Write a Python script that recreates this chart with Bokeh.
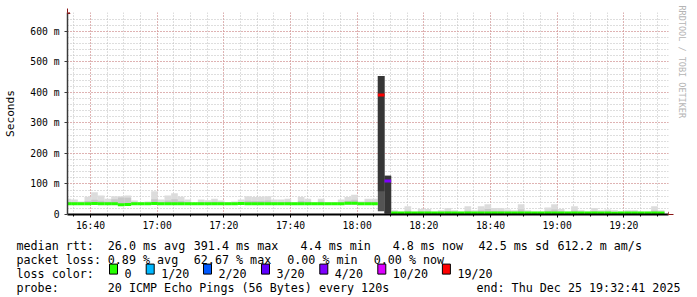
import math
import numpy as np
from bokeh.plotting import figure
from bokeh.layouts import column, row
from bokeh.models import Range1d, FixedTicker, Title, Arrow, NormalHead
from bokeh.core.properties import value
from bokeh.embed import file_html
from bokeh.resources import INLINE

# ---------------- data ----------------
# 2-minute bins, left edge in minutes after 16:00
start_min = 32.2
step_min = 2.0

median_pre_ms = [35, 35, 35, 35, 36, 35, 35, 35, 32, 33, 35, 35, 35, 36, 35, 35, 35, 35, 35, 35,
                 35, 35, 35, 35, 35, 35, 36, 35, 35, 35, 35, 35, 35, 35, 35, 35, 35, 35, 35, 35,
                 35, 35, 37, 37, 35, 35, 35]
median_spike_ms = [391.4, 110.0]
median_post_ms = [4.9, 4.8, 5.0, 4.8, 4.9, 4.9, 4.8, 4.9, 5.0, 4.9, 4.8, 5.0, 4.9, 5.0, 5.1, 4.9,
                  4.9, 4.9, 4.8, 5.0, 4.9, 4.8, 4.8, 4.9, 5.0, 4.9, 4.8, 5.0, 4.9, 4.8, 4.9, 4.9,
                  4.9, 4.4, 4.8, 4.9, 4.8, 4.8, 4.8, 4.9, 4.8]

max_pre_ms = [52, 49, 43, 58, 73, 62, 52, 60, 60, 62, 46, 40, 43, 76, 49, 62, 70, 58, 49, 38,
              49, 47, 52, 46, 40, 43, 49, 60, 57, 58, 60, 49, 49, 52, 40, 57, 52, 40, 52, 40,
              40, 49, 57, 65, 43, 52, 52]
max_spike_ms = [454, 127]
max_post_ms = [14, 9, 27, 9, 18, 18, 9, 14, 21, 14, 9, 27, 14, 27, 34, 21, 21, 16, 14, 34,
               14, 9, 9, 23, 34, 18, 9, 27, 14, 9, 21, 14, 16, 14, 9, 14, 14, 9, 9, 27, 14]

core_pre_ms = [42, 40, 38, 44, 48, 45, 42, 50, 56, 55, 39, 38, 38, 50, 40, 46, 50, 44, 40, 37,
               40, 39, 42, 40, 38, 38, 40, 45, 44, 44, 46, 40, 40, 42, 38, 44, 42, 38, 42, 38,
               38, 40, 45, 48, 39, 42, 42]
core_spike_ms = [454, 127]
core_post_ms = [8, 7, 12, 7, 10, 10, 7, 8, 11, 8, 7, 12, 8, 14, 18, 12, 12, 10, 8, 16,
                8, 7, 7, 12, 16, 10, 7, 13, 8, 7, 11, 8, 10, 8, 7, 8, 8, 7, 7, 13, 8]

min_pre_ms = [32, 32, 32, 32, 33, 32, 32, 32, 30, 30, 32, 32, 32, 33, 32, 32, 32, 32, 32, 32,
              32, 32, 32, 32, 32, 32, 33, 32, 32, 32, 32, 32, 32, 32, 32, 32, 32, 32, 32, 32,
              32, 32, 33, 33, 32, 32, 32]
min_spike_ms = [11, 3]
core_floor_spike_ms = [76, 3]
min_post_ms = [4.5, 4.5, 4.6, 4.5, 4.5, 4.5, 4.5, 4.5, 4.6, 4.5, 4.5, 4.6, 4.5, 4.6, 4.7, 4.5,
               4.5, 4.5, 4.5, 4.6, 4.5, 4.5, 4.5, 4.5, 4.6, 4.5, 4.5, 4.6, 4.5, 4.5, 4.5, 4.5,
               4.5, 4.3, 4.5, 4.5, 4.5, 4.5, 4.5, 4.5, 4.5]

loss_pre = [0, 0, 0, 0, 0, 0, 0, 0, 0, 0, 0, 0, 0, 0, 0, 0, 0, 0, 0, 0,
            0, 0, 0, 0, 0, 0, 0, 0, 0, 0, 0, 0, 0, 0, 0, 0, 0, 0, 0, 0,
            0, 0, 0, 0, 0, 0, 0]
loss_spike = [12.53, 3.48]   # pings lost out of 20
loss_post = [0, 0, 0, 0, 0, 0, 0, 0, 0, 0, 0, 0, 0, 0, 0, 0, 0, 0, 0, 0,
             0, 0, 0, 0, 0, 0, 0, 0, 0, 0, 0, 0, 0, 0, 0, 0, 0, 0, 0, 0, 0]

x_tick_pos = [40, 60, 80, 100, 120, 140, 160, 180, 200]
x_tick_labels = ["16:40", "17:00", "17:20", "17:40", "18:00", "18:20", "18:40", "19:00", "19:20"]
y_tick_pos = [0, 0.1, 0.2, 0.3, 0.4, 0.5, 0.6]
y_tick_labels = ["0", "100 m", "200 m", "300 m", "400 m", "500 m", "600 m"]

loss_thresholds = [0, 1, 2, 3, 4, 10, 19]
loss_colors = ["#26ff00", "#00b8ff", "#0059ff", "#5e00ff", "#7e00ff", "#dd00ff", "#ff0000"]
loss_labels = ["0", "1/20", "2/20", "3/20", "4/20", "10/20", "19/20"]

legend_row1 = ["median rtt:", "26.0 ms avg", "391.4 ms max", "4.4 ms min", "4.8 ms now",
               "42.5 ms sd", "612.2 m am/s"]
legend_row2 = ["packet loss:", "0.89 % avg", "62.67 % max", "0.00 % min", "0.00 % now"]
legend_row4 = ["probe:", "20 ICMP Echo Pings (56 Bytes) every 120s"]
end_text = "end: Thu Dec 25 19:32:41 2025"
watermark = "RRDTOOL / TOBI OETIKER"

# ---------------- assemble ----------------
med = np.array(median_pre_ms + median_spike_ms + median_post_ms) / 1000.0
hi = np.array(max_pre_ms + max_spike_ms + max_post_ms) / 1000.0
core = np.array(core_pre_ms + core_spike_ms + core_post_ms) / 1000.0
lo = np.array(min_pre_ms + min_spike_ms + min_post_ms) / 1000.0
core_lo = np.array(min_pre_ms + core_floor_spike_ms + min_post_ms) / 1000.0
loss = np.array(loss_pre + loss_spike + loss_post)
n = len(med)
left = start_min + step_min * np.arange(n)
right = left + step_min


def loss_color(l):
    for t, c in zip(loss_thresholds, loss_colors):
        if l <= t:
            return c
    return loss_colors[-1]


med_col = [loss_color(l) for l in loss]
outer_col = ["#dcdcdc" if l == 0 else "#545454" for l in loss]
inner_col = ["#c8c8c8" if l == 0 else "#363636" for l in loss]

FONT = "DejaVu Sans Mono"
X0, X1 = 33.1, 213.4
Y0, Y1 = 0.0, 0.662

p = figure(width=697, height=233, x_range=Range1d(X0, X1), y_range=Range1d(Y0, Y1),
           output_backend="svg", toolbar_location=None,
           min_border_left=67, min_border_right=29, min_border_top=12, min_border_bottom=18)
p.outline_line_color = None
p.background_fill_color = "white"
p.border_fill_color = "white"

p.quad(left=left, right=right, bottom=lo, top=hi, fill_color=outer_col, line_color=None)
p.quad(left=left, right=right, bottom=core_lo, top=core, fill_color=inner_col, line_color=None)
p.segment(x0=left, y0=med, x1=right, y1=med, line_color=med_col, line_width=3, line_cap="butt")

x_minor = list(range(35, 215, 5))
y_minor = [round(v, 2) for v in np.arange(0.02, 0.65, 0.02)]
p.xaxis.ticker = FixedTicker(ticks=x_tick_pos, minor_ticks=x_minor)
p.yaxis.ticker = FixedTicker(ticks=y_tick_pos, minor_ticks=y_minor)
p.xgrid.ticker = p.xaxis.ticker
p.ygrid.ticker = p.yaxis.ticker
p.xaxis.major_label_overrides = dict(zip(x_tick_pos, x_tick_labels))
p.yaxis.major_label_overrides = dict(zip(y_tick_pos, y_tick_labels))

for g in (p.xgrid, p.ygrid):
    g.grid_line_color = "#e08888"
    g.grid_line_dash = "1 2"
    g.grid_line_width = 1
    g.minor_grid_line_color = "#bdbdbd"
    g.minor_grid_line_dash = "1 2"
    g.minor_grid_line_width = 1

for ax in (p.xaxis, p.yaxis):
    ax.major_label_text_font = FONT
    ax.major_label_text_font_size = "9.7px"
    ax.major_label_text_color = "#000000"
    ax.major_tick_in = 0
    ax.minor_tick_in = 0

p.xaxis.axis_line_color = "#000000"
p.xaxis.axis_line_width = 2
p.xaxis.major_tick_out = 3
p.xaxis.minor_tick_out = 2
p.xaxis.major_tick_line_color = "#000000"
p.xaxis.minor_tick_line_color = "#000000"
p.xaxis.major_label_standoff = 2

p.yaxis.axis_line_color = "#3a3a3a"
p.yaxis.axis_line_width = 1.5
p.yaxis.major_tick_out = 3
p.yaxis.minor_tick_out = 0
p.yaxis.major_tick_line_color = "#3a3a3a"
p.yaxis.major_label_standoff = 5
p.yaxis.axis_label = "Seconds"
p.yaxis.axis_label_text_font = FONT
p.yaxis.axis_label_text_font_size = "11.2px"
p.yaxis.axis_label_text_font_style = "normal"
p.yaxis.axis_label_text_color = "#000000"
p.yaxis.axis_label_standoff = 10

arrow_c = "#8b1515"
p.add_layout(Arrow(end=NormalHead(size=5, fill_color=arrow_c, line_color=arrow_c, line_width=1),
                   x_start=X0, y_start=Y1 - 0.003, x_end=X0, y_end=0.675,
                   line_color=arrow_c, line_width=1))
p.add_layout(Arrow(end=NormalHead(size=5, fill_color=arrow_c, line_color=arrow_c, line_width=1),
                   x_start=X1 - 0.5, y_start=0, x_end=X1 + 1.5, y_end=0,
                   line_color=arrow_c, line_width=1))

p.add_layout(Title(text=watermark, align="left", text_font=FONT, text_font_size="8.5px",
                   text_font_style="normal", text_color="#b4b4b4", standoff=17, offset=-7),
             "right")

# ---------------- legend panel ----------------
LH = 64
leg = figure(width=697, height=LH, x_range=Range1d(0, 697), y_range=Range1d(LH, 0),
             output_backend="svg", toolbar_location=None, x_axis_type=None, y_axis_type=None,
             min_border=0, min_border_left=0, min_border_right=0,
             min_border_top=0, min_border_bottom=0)
leg.outline_line_color = None
leg.grid.visible = False

base = [12.3, 26.2, 40.1, 54.0]
row1_x = [16, 107.3, 193.3, 300.0, 392.2, 478.1, 557.0]
row2_x = [16, 107.3, 193.3, 286.7, 373.2]
sq_x = [109, 145.7, 203, 261, 319.3, 377.3, 441.9]

tx, ty, tt = [], [], []
for s, x in zip(legend_row1, row1_x):
    tx.append(x); ty.append(base[0]); tt.append(s)
for s, x in zip(legend_row2, row2_x):
    tx.append(x); ty.append(base[1]); tt.append(s)
tx.append(16); ty.append(base[2]); tt.append("loss color:")
for s, x in zip(loss_labels, sq_x):
    tx.append(x + 15); ty.append(base[2]); tt.append(s)
for s, x in zip(legend_row4, [16, 107.3]):
    tx.append(x); ty.append(base[3]); tt.append(s)

LFS = "11.7px"
leg.text(x=tx, y=ty, text=tt, text_font=value(FONT), text_font_size=LFS,
         text_baseline="alphabetic", text_align="left", text_color="#000000")
leg.text(x=[680], y=[base[3]], text=[end_text], text_font=value(FONT), text_font_size=LFS,
         text_baseline="alphabetic", text_align="right", text_color="#000000")

sq_x_arr = np.array(sq_x)
leg.quad(left=sq_x_arr, right=sq_x_arr + 8, top=base[2] - 9.5, bottom=base[2] + 0.5,
         fill_color=loss_colors, line_color="#000000", line_width=1)

layout = column(p, row(leg, spacing=0), spacing=0)
open("out.html", "w").write(file_html(layout, INLINE))
